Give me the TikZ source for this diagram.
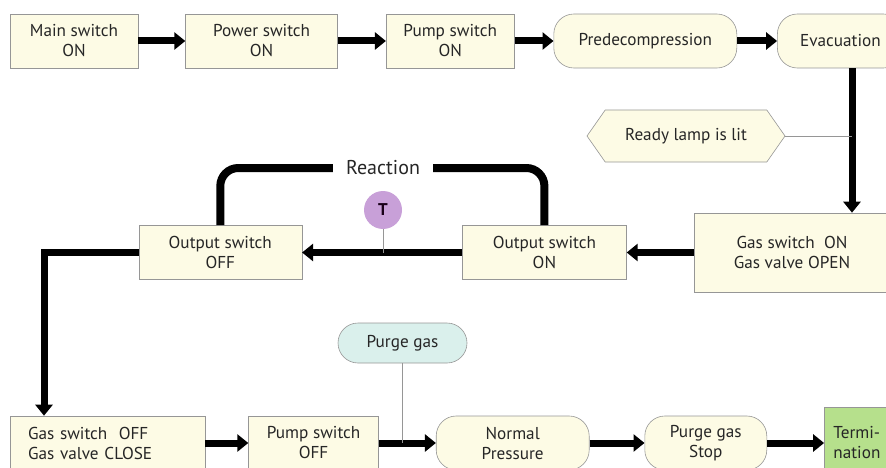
\documentclass[tikz,border=0pt]{standalone}
\usepackage{fontspec}
\setmainfont{PT Sans}
\usepackage{tikz}
\usetikzlibrary{arrows.meta,positioning,shapes.symbols}

\definecolor{cream}{RGB}{253,251,229}
\definecolor{rim}{RGB}{150,150,150}
\definecolor{mint}{RGB}{218,240,236}
\definecolor{lilac}{RGB}{200,160,216}
\definecolor{leaf}{RGB}{182,224,140}

\tikzset{
  box/.style={draw=rim, line width=0.6pt, fill=cream, minimum height=54pt,
    align=center, inner sep=2pt, text=black!85, font=\fontsize{17.2}{20}\selectfont},
  pill/.style={box, rounded corners=20pt},
  flow/.style={line width=7pt, -{Triangle[length=11pt,width=17pt]}},
  ring/.style={line width=8pt, rounded corners=18pt},
  hint/.style={draw=rim, line width=0.6pt},
}

\begin{document}
\begin{tikzpicture}[x=1pt,y=1pt]
  \useasboundingbox (0,0) rectangle (886,-468);
  \clip (0,0) rectangle (886,-468);

  % Define nodes - top row
  \node[box, minimum width=128pt] (main) at (74,-41) {Main switch\\ON};%
  \node[box, minimum width=152pt, right=47pt of main] (power) {Power switch\\ON};%
  \node[box, minimum width=128pt, right=48pt of power] (pumpon) {Pump switch\\ON};%
  \node[pill, minimum width=183pt, right=39pt of pumpon] (predec) {Predecompression};%
  \node[pill, minimum width=126pt, right=40pt of predec] (evac) {Evacuation};%

  % middle row
  \node[box, minimum width=196pt, minimum height=79pt, align=center] (gason) at (792,-252.5) {Gas switch~ ON\\Gas valve OPEN};%
  \node[box, minimum width=164pt, left=67pt of gason] (outon) {Output switch\\ON};%
  \node[box, minimum width=163pt, left=160pt of outon] (outoff) {Output switch\\OFF};%
  \node[box, signal, signal to=west and east, signal pointer angle=110,
        minimum width=198pt, minimum height=52pt] (ready) at (686,-136) {Ready lamp is lit};%
  \node[font=\fontsize{20}{22}\selectfont, text=black!85, inner xsep=13pt] (react) at (383,-168) {Reaction};%
  \node[circle, fill=lilac, minimum size=38pt, inner sep=0pt,
        font=\fontsize{17}{19}\selectfont\bfseries, text=black!80!violet] (tmr) at (383,-210) {T};%

  % bottom row
  \node[box, minimum width=195pt, text width=159pt, inner xsep=18pt, align=left] (gasoff) at (107.5,-443) {Gas switch~ OFF\\Gas valve CLOSE};%
  \node[box, minimum width=130pt, right=43pt of gasoff] (pumpoff) {Pump switch\\OFF};%
  \node[pill, minimum width=153pt, right=57pt of pumpoff] (normal) {Normal\\Pressure};%
  \node[pill, minimum width=122pt, right=55pt of normal] (pstop) {Purge gas\\Stop};%
  \node[box, fill=leaf, minimum width=80pt, minimum height=72pt, text width=62pt,
        align=left, right=57pt of pstop] (term) {Termi-\\nation};%
  \node[pill, fill=mint, minimum width=129pt, minimum height=40pt] (purge) at (402.5,-343) {Purge gas};%

  \coordinate (tap) at (852,-136);
  \coordinate (bend) at (44,-252.5);

  % Define edges - main flow
  \draw[flow] (main) -- (power);
  \draw[flow] (power) -- (pumpon);
  \draw[flow] (pumpon) -- (predec);
  \draw[flow] (predec) -- (evac);
  \draw[flow] (evac.south -| tap) -- (gason.north -| tap);
  \draw[flow] (gason) -- (outon);
  \draw[flow] (outon) -- (outoff);
  \draw[flow] (outoff.west) -- (bend) -- (bend |- gasoff.north);
  \draw[flow] (gasoff) -- (pumpoff);
  \draw[flow] (pumpoff) -- (normal);
  \draw[flow] (normal) -- (pstop);
  \draw[flow] (pstop) -- (term);

  % Reaction loop over the output switches
  \draw[ring] (outoff.north) |- (react.west);
  \draw[ring] (react.east) -| (outon.north);

  % Thin side links
  \draw[hint] (ready.east) -- (tap);
  \draw[hint] (tmr.south) -- (tmr.south |- outon.west);
  \draw[hint] (purge.south) -- (purge.south |- normal.west);
\end{tikzpicture}
\end{document}
